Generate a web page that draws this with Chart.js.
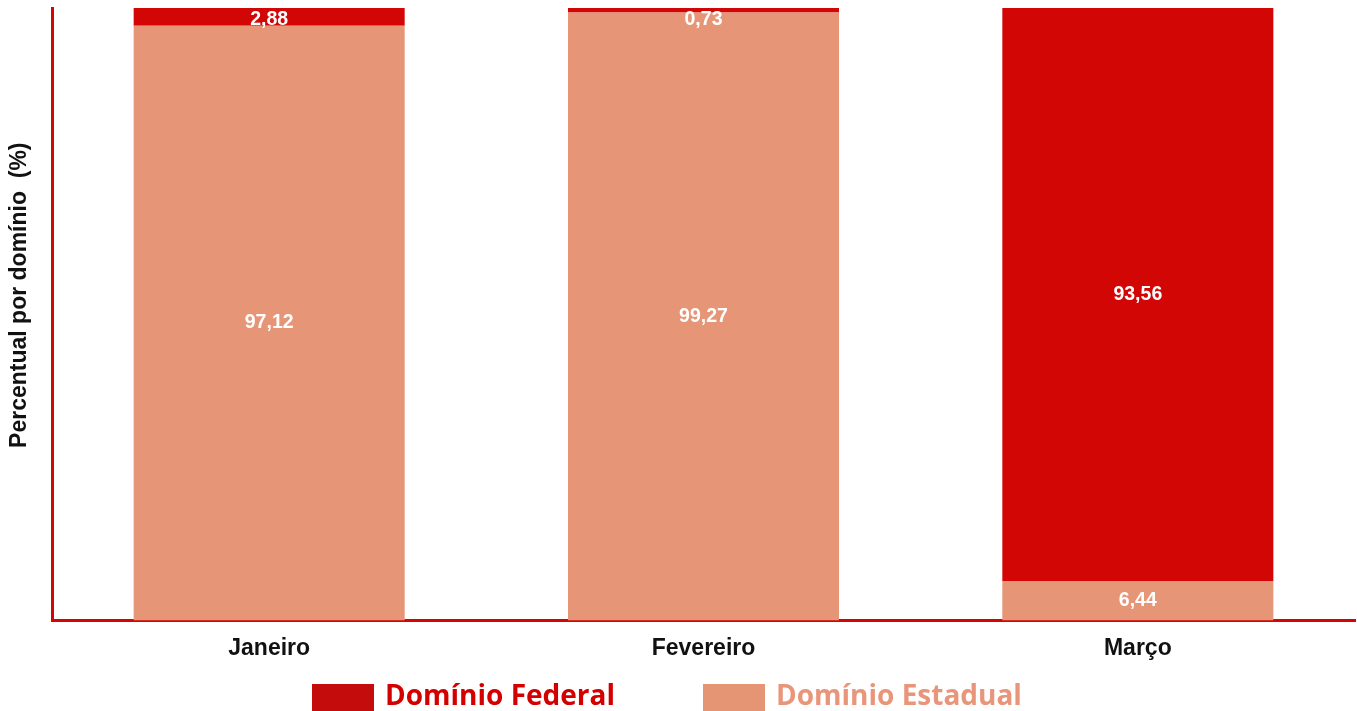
<!DOCTYPE html>
<html>
<head>
<meta charset="utf-8">
<script src="https://cdn.jsdelivr.net/npm/chart.js@4.4.0/dist/chart.umd.min.js"></script>
<style>
  html, body { margin: 0; padding: 0; background: #ffffff; }
  #wrap { width: 1357px; height: 711px; position: relative; }
</style>
</head>
<body>
<div id="wrap"><canvas id="c" width="1357" height="711"></canvas></div>
<script>
const categories = ["Janeiro", "Fevereiro", "Março"];
const federalValues = [2.88, 0.73, 93.56];
const estadualValues = [97.12, 99.27, 6.44];
const seriesNames = ["Domínio Federal", "Domínio Estadual"];
const yTitle = "Percentual por domínio  (%)";

const FED = "#D10605";
const EST = "#E69677";
const FED_LEG_BOX = "#C40C0C";
const FED_LEG_TXT = "#D40000";
const EST_LEG_BOX = "#E69574";
const EST_LEG_TXT = "#E8957A";

const fmt = v => v.toFixed(2).replace(".", ",");

const valueLabels = {
  id: "valueLabels",
  afterDatasetsDraw(chart) {
    const ctx = chart.ctx;
    const top = chart.chartArea.top;
    ctx.save();
    ctx.fillStyle = "#ffffff";
    ctx.font = "bold 19.5px 'Liberation Sans', Arial, sans-serif";
    ctx.textAlign = "center";
    ctx.textBaseline = "middle";
    chart.data.datasets.forEach((ds, di) => {
      const meta = chart.getDatasetMeta(di);
      meta.data.forEach((el, i) => {
        const p = el.getProps(["x", "y", "base"], true);
        let cy = (p.y + p.base) / 2;
        if (cy < top + 12) cy = top + 12;
        ctx.fillText(fmt(ds.data[i]), p.x, cy);
      });
    });
    ctx.restore();
  }
};

// Y-axis title drawn slightly above the plot centre, as in the reference
const yAxisTitle = {
  id: "yAxisTitle",
  afterDraw(chart) {
    const ctx = chart.ctx;
    const area = chart.chartArea;
    ctx.save();
    ctx.translate(26, (area.top + area.bottom) / 2 - 19);
    ctx.rotate(-Math.PI / 2);
    ctx.font = "bold 23px 'Liberation Sans', Arial, sans-serif";
    ctx.fillStyle = "#111111";
    ctx.textAlign = "center";
    ctx.textBaseline = "alphabetic";
    ctx.fillText(yTitle, 0, 0);
    ctx.restore();
  }
};

// Legend drawn on the canvas below the axis (Federal first, then Estadual)
const bottomLegend = {
  id: "bottomLegend",
  afterDraw(chart) {
    const ctx = chart.ctx;
    const items = [
      { text: seriesNames[0], box: FED_LEG_BOX, color: FED_LEG_TXT },
      { text: seriesNames[1], box: EST_LEG_BOX, color: EST_LEG_TXT }
    ];
    const boxW = 62, boxH = 28, gapText = 11, gapItem = 88;
    const boxTop = 684, baseline = 705;
    ctx.save();
    ctx.font = "bold 28px 'Open Sans', sans-serif";
    ctx.textBaseline = "alphabetic";
    ctx.textAlign = "left";
    let x = 312;
    items.forEach(it => {
      ctx.fillStyle = it.box;
      ctx.fillRect(x, boxTop, boxW, boxH);
      x += boxW + gapText;
      ctx.fillStyle = it.color;
      ctx.fillText(it.text, x, baseline);
      x += ctx.measureText(it.text).width + gapItem;
    });
    ctx.restore();
  }
};

new Chart(document.getElementById("c"), {
  type: "bar",
  data: {
    labels: categories,
    datasets: [
      { label: seriesNames[1], data: estadualValues, backgroundColor: EST },
      { label: seriesNames[0], data: federalValues, backgroundColor: FED }
    ]
  },
  options: {
    responsive: false,
    animation: false,
    devicePixelRatio: 1,
    layout: { padding: { top: 8, left: 52, right: 2, bottom: 35 } },
    datasets: { bar: { categoryPercentage: 1.0, barPercentage: 0.624, borderWidth: 0 } },
    scales: {
      x: {
        stacked: true,
        grid: { display: false, drawTicks: false },
        border: { display: true, color: "#D10605", width: 3 },
        ticks: { color: "#111111", padding: 14, font: { family: "'Liberation Sans', Arial, sans-serif", size: 23, weight: "bold" } }
      },
      y: {
        stacked: true,
        min: 0, max: 100,
        grid: { display: false, drawTicks: false },
        border: { display: true, color: "#D10605", width: 3 },
        ticks: { display: false },
        title: { display: false }
      }
    },
    plugins: {
      tooltip: { enabled: false },
      legend: { display: false }
    }
  },
  plugins: [valueLabels, yAxisTitle, bottomLegend]
});
</script>
</body>
</html>
